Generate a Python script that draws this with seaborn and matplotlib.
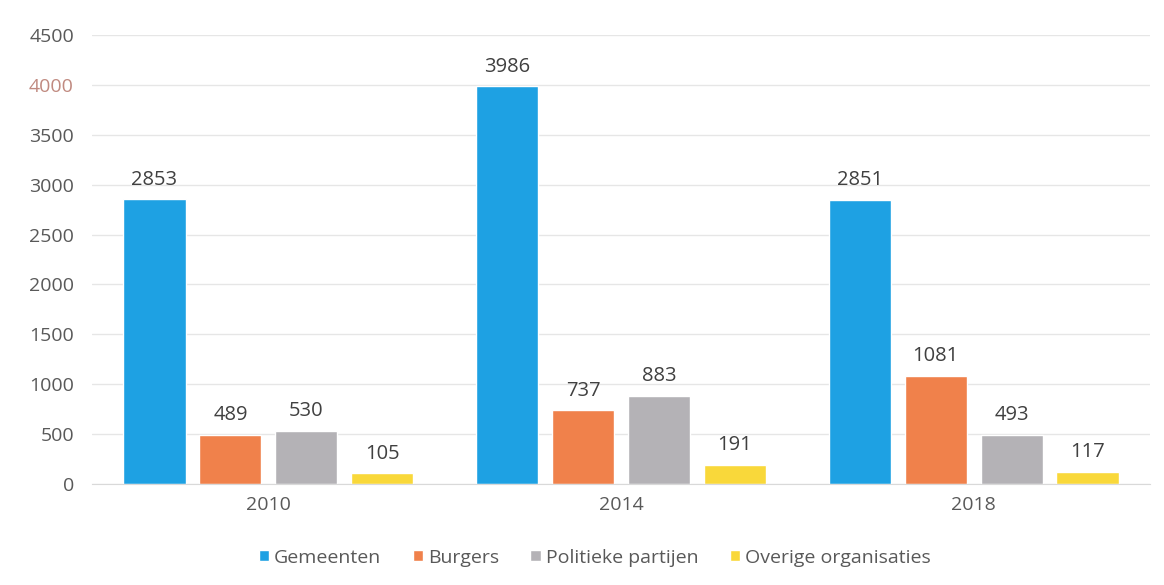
import numpy as np
import pandas as pd
import matplotlib.pyplot as plt
import seaborn as sns

YEARS = ["2010", "2014", "2018"]
GROUPS = ["Gemeenten", "Burgers", "Politieke partijen", "Overige organisaties"]
GEMEENTEN = [2853, 3986, 2851]
BURGERS = [489, 737, 1081]
PARTIJEN = [530, 883, 493]
OVERIGE = [105, 191, 117]
COLORS = ["#1ea1e3", "#f0814b", "#b4b2b6", "#f9d83a"]


def main():
    rows = []
    for name, vals in zip(GROUPS, [GEMEENTEN, BURGERS, PARTIJEN, OVERIGE]):
        for year, v in zip(YEARS, vals):
            rows.append({"Jaar": year, "Groep": name, "Aantal": v})
    df = pd.DataFrame(rows)

    sns.set_style("white")
    plt.rcParams["font.family"] = ["Open Sans", "DejaVu Sans"]

    fig = plt.figure(figsize=(11.64, 5.85), dpi=100)
    ax = fig.add_axes([0.079, 0.173, 0.909, 0.767])

    sns.barplot(
        data=df, x="Jaar", y="Aantal", hue="Groep", order=YEARS,
        hue_order=GROUPS, palette=COLORS, width=0.86, gap=0.18,
        saturation=1, errorbar=None, ax=ax, legend=True,
    )

    for cont in ax.containers:
        ax.bar_label(cont, padding=7, fontsize=14.5, color="#404040")

    ax.set_ylim(0, 4500)
    ax.set_yticks(np.arange(0, 4501, 500))
    ax.yaxis.grid(True, color="#e6e6e6", linewidth=1)
    ax.set_axisbelow(True)
    for s in ax.spines.values():
        s.set_visible(False)
    ax.spines["bottom"].set_visible(True)
    ax.spines["bottom"].set_color("#d9d9d9")
    ax.tick_params(axis="both", length=0, labelsize=14, colors="#595959", pad=9)
    ax.tick_params(axis="y", pad=13)
    for lab in ax.get_yticklabels():
        if lab.get_text() == "4000":
            lab.set_color("#c08a80")
    ax.set_xlabel("")
    ax.set_ylabel("")

    handles, labels = ax.get_legend_handles_labels()
    ax.get_legend().remove()
    fig.legend(
        handles, labels, loc="center", bbox_to_anchor=(0.511, 0.047), ncol=4,
        frameon=False, fontsize=14, handlelength=0.55, handleheight=0.55,
        handletextpad=0.25, columnspacing=1.6, labelcolor="#595959",
    )

    fig.savefig("out.png", dpi=100)


if __name__ == "__main__":
    main()
